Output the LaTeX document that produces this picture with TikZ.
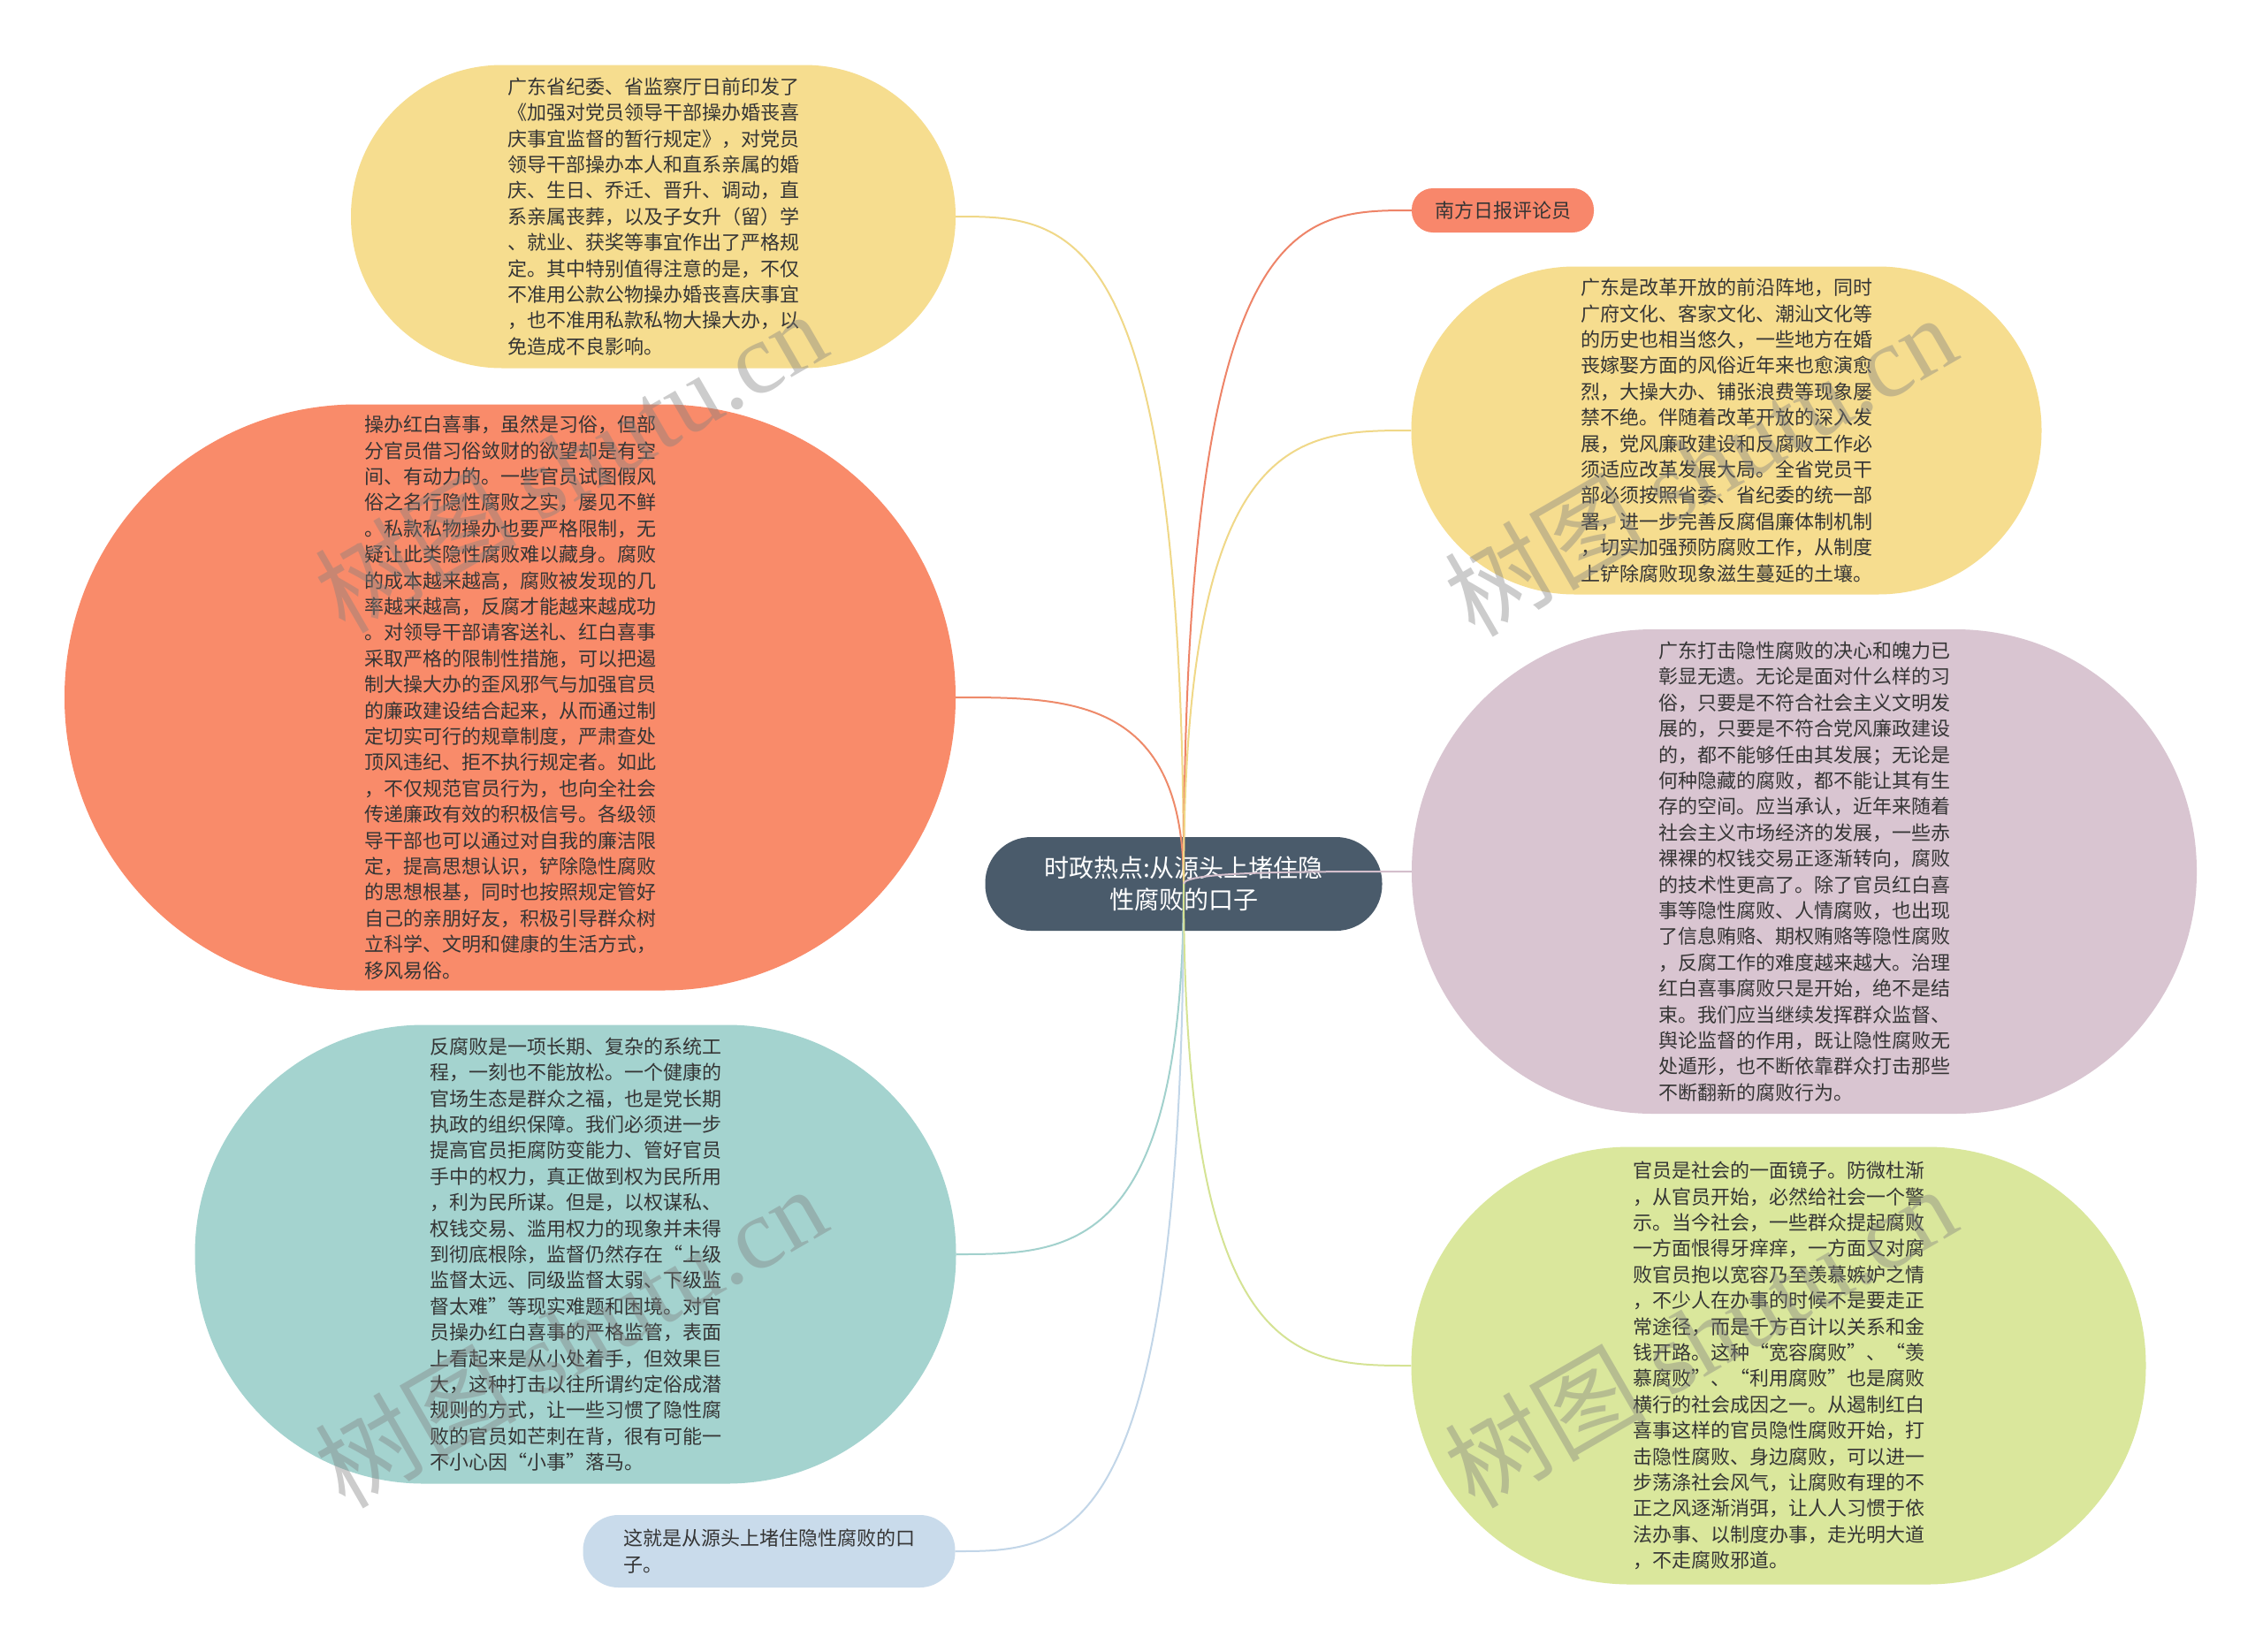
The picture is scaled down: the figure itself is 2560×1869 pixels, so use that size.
\documentclass[tikz,border=0pt]{standalone}
\usepackage{fontspec}
\newfontfamily\cjk{Noto Sans CJK SC}
\newfontfamily\wmserif{Liberation Serif}
\usetikzlibrary{calc}
\definecolor{txt}{HTML}{353535}
\definecolor{fYel}{HTML}{F6DD8F}
\definecolor{fOra}{HTML}{F98B6A}
\definecolor{fTea}{HTML}{A4D3CF}
\definecolor{fBlu}{HTML}{C9DBEB}
\definecolor{fCen}{HTML}{4A5B6B}
\definecolor{fRed}{HTML}{F8876B}
\definecolor{fMau}{HTML}{D9C5D1}
\definecolor{fGre}{HTML}{DAE79C}
\definecolor{lRed}{HTML}{EE8468}
\definecolor{lYel}{HTML}{F0D888}
\definecolor{lOra}{HTML}{EE8A6A}
\definecolor{lTea}{HTML}{A2D1CD}
\definecolor{lBlu}{HTML}{C2D6E8}
\definecolor{lMau}{HTML}{D4BFCC}
\definecolor{lGre}{HTML}{D5E394}
\begin{document}
\begin{tikzpicture}[x=1pt,y=-1pt,
  bub/.style n args={4}{inner sep=0pt, align=left, text=txt,
    font=\cjk\fontsize{22}{29.4}\selectfont,
    fill=#1, minimum width=#2pt, minimum height=#3pt, rounded corners=#4pt},
  conn/.style={line width=2pt},
  wm/.style={text=gray, opacity=0.4, rotate=30, inner sep=0pt,
    font=\cjk\fontsize{114}{120}\selectfont}
]
\useasboundingbox[fill=white] (0,0) rectangle (2560,1869);

\node[bub={fYel}{684}{343}{171}] (n1) at (739,245) {%
广东省纪委、省监察厅日前印发了\\
《加强对党员领导干部操办婚丧喜\\
庆事宜监督的暂行规定》，对党员\\
领导干部操办本人和直系亲属的婚\\
庆、生日、乔迁、晋升、调动，直\\
系亲属丧葬，以及子女升（留）学\\
、就业、获奖等事宜作出了严格规\\
定。其中特别值得注意的是，不仅\\
不准用公款公物操办婚丧喜庆事宜\\
，也不准用私款私物大操大办，以\\
免造成不良影响。};

\node[bub={fOra}{1008}{663}{331}] (n2) at (577,789) {%
操办红白喜事，虽然是习俗，但部\\
分官员借习俗敛财的欲望却是有空\\
间、有动力的。一些官员试图假风\\
俗之名行隐性腐败之实，屡见不鲜\\
。私款私物操办也要严格限制，无\\
疑让此类隐性腐败难以藏身。腐败\\
的成本越来越高，腐败被发现的几\\
率越来越高，反腐才能越来越成功\\
。对领导干部请客送礼、红白喜事\\
采取严格的限制性措施，可以把遏\\
制大操大办的歪风邪气与加强官员\\
的廉政建设结合起来，从而通过制\\
定切实可行的规章制度，严肃查处\\
顶风违纪、拒不执行规定者。如此\\
，不仅规范官员行为，也向全社会\\
传递廉政有效的积极信号。各级领\\
导干部也可以通过对自我的廉洁限\\
定，提高思想认识，铲除隐性腐败\\
的思想根基，同时也按照规定管好\\
自己的亲朋好友，积极引导群众树\\
立科学、文明和健康的生活方式，\\
移风易俗。};

\node[bub={fTea}{861}{519}{259}] (n3) at (651,1419) {%
反腐败是一项长期、复杂的系统工\\
程，一刻也不能放松。一个健康的\\
官场生态是群众之福，也是党长期\\
执政的组织保障。我们必须进一步\\
提高官员拒腐防变能力、管好官员\\
手中的权力，真正做到权为民所用\\
，利为民所谋。但是，以权谋私、\\
权钱交易、滥用权力的现象并未得\\
到彻底根除，监督仍然存在“上级\\
监督太远、同级监督太弱、下级监\\
督太难”等现实难题和困境。对官\\
员操办红白喜事的严格监管，表面\\
上看起来是从小处着手，但效果巨\\
大，这种打击以往所谓约定俗成潜\\
规则的方式，让一些习惯了隐性腐\\
败的官员如芒刺在背，很有可能一\\
不小心因“小事”落马。};

\node[bub={fBlu}{421}{82}{40}] (n4) at (870,1755) {%
这就是从源头上堵住隐性腐败的口\\
子。};

\node[bub={fCen}{449}{106}{52}, align=center, text=white,
  font=\cjk\fontsize{28}{36.7}\selectfont] (c) at (1339,1000) {%
时政热点:从源头上堵住隐\\
性腐败的口子};

\node[bub={fRed}{206}{50}{24}] (n5) at (1700,238) {南方日报评论员};

\node[bub={fYel}{713}{371}{185}] (n6) at (1953,487) {%
广东是改革开放的前沿阵地，同时\\
广府文化、客家文化、潮汕文化等\\
的历史也相当悠久，一些地方在婚\\
丧嫁娶方面的风俗近年来也愈演愈\\
烈，大操大办、铺张浪费等现象屡\\
禁不绝。伴随着改革开放的深入发\\
展，党风廉政建设和反腐败工作必\\
须适应改革发展大局。全省党员干\\
部必须按照省委、省纪委的统一部\\
署，进一步完善反腐倡廉体制机制\\
，切实加强预防腐败工作，从制度\\
上铲除腐败现象滋生蔓延的土壤。};

\node[bub={fMau}{888}{548}{273}] (n7) at (2041,986) {%
广东打击隐性腐败的决心和魄力已\\
彰显无遗。无论是面对什么样的习\\
俗，只要是不符合社会主义文明发\\
展的，只要是不符合党风廉政建设\\
的，都不能够任由其发展；无论是\\
何种隐藏的腐败，都不能让其有生\\
存的空间。应当承认，近年来随着\\
社会主义市场经济的发展，一些赤\\
裸裸的权钱交易正逐渐转向，腐败\\
的技术性更高了。除了官员红白喜\\
事等隐性腐败、人情腐败，也出现\\
了信息贿赂、期权贿赂等隐性腐败\\
，反腐工作的难度越来越大。治理\\
红白喜事腐败只是开始，绝不是结\\
束。我们应当继续发挥群众监督、\\
舆论监督的作用，既让隐性腐败无\\
处遁形，也不断依靠群众打击那些\\
不断翻新的腐败行为。};

\node[bub={fGre}{831}{495}{247}] (n8) at (2012,1545) {%
官员是社会的一面镜子。防微杜渐\\
，从官员开始，必然给社会一个警\\
示。当今社会，一些群众提起腐败\\
一方面恨得牙痒痒，一方面又对腐\\
败官员抱以宽容乃至羡慕嫉妒之情\\
，不少人在办事的时候不是要走正\\
常途径，而是千方百计以关系和金\\
钱开路。这种“宽容腐败”、“羡\\
慕腐败”、“利用腐败”也是腐败\\
横行的社会成因之一。从遏制红白\\
喜事这样的官员隐性腐败开始，打\\
击隐性腐败、身边腐败，可以进一\\
步荡涤社会风气，让腐败有理的不\\
正之风逐渐消弭，让人人习惯于依\\
法办事、以制度办事，走光明大道\\
，不走腐败邪道。};

% connectors
\draw[conn, draw=lYel] (c.center) .. controls (c.center |- n1.east) and ($(c.center |- n1.east)!0.5!(n1.east)$) .. (n1.east);
\draw[conn, draw=lOra] (c.center) .. controls (c.center |- n2.east) and ($(c.center |- n2.east)!0.5!(n2.east)$) .. (n2.east);
\draw[conn, draw=lTea] (c.center) .. controls (c.center |- n3.east) and ($(c.center |- n3.east)!0.5!(n3.east)$) .. (n3.east);
\draw[conn, draw=lBlu] (c.center) .. controls (c.center |- n4.east) and ($(c.center |- n4.east)!0.5!(n4.east)$) .. (n4.east);
\draw[conn, draw=lRed] (c.center) .. controls (c.center |- n5.west) and ($(c.center |- n5.west)!0.5!(n5.west)$) .. (n5.west);
\draw[conn, draw=lYel] (c.center) .. controls (c.center |- n6.west) and ($(c.center |- n6.west)!0.5!(n6.west)$) .. (n6.west);
\draw[conn, draw=lMau] (c.center) .. controls (c.center |- n7.west) and ($(c.center |- n7.west)!0.5!(n7.west)$) .. (n7.west);
\draw[conn, draw=lGre] (c.center) .. controls (c.center |- n8.west) and ($(c.center |- n8.west)!0.5!(n8.west)$) .. (n8.west);

% watermarks
\node[wm] (w1) at (645,522) {树图 {\wmserif shutu.cn}};
\node[wm] (w2) at (1923,526) {树图 {\wmserif shutu.cn}};
\node[wm] (w3) at (645,1512) {树图 {\wmserif shutu.cn}};
\node[wm] (w4) at (1923,1512) {树图 {\wmserif shutu.cn}};
\end{tikzpicture}
\end{document}
